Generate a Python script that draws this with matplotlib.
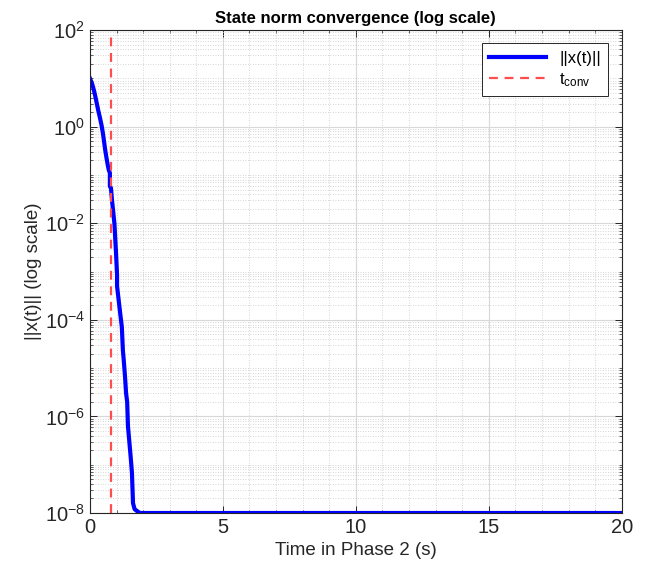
import numpy as np
import matplotlib
matplotlib.use("Agg")
import matplotlib.pyplot as plt
from matplotlib.ticker import MultipleLocator, FixedLocator, NullFormatter

plt.rcParams['font.family'] = ['Liberation Sans', 'DejaVu Sans']

# state norm samples (time in s, norm value)
t_vals = [0.00, 0.08, 0.16, 0.23, 0.31, 0.38, 0.44, 0.49, 0.53, 0.57,
          0.62, 0.67, 0.71, 0.75, 0.75, 0.79, 0.83, 0.92, 0.98, 1.02,
          1.02, 1.09, 1.15, 1.20, 1.24, 1.27, 1.32, 1.36, 1.40, 1.43,
          1.50, 1.53, 1.58, 1.62, 1.68, 1.77, 1.88, 20.0]
x_norm = [10.0, 7.8, 5.4, 3.6, 2.2, 1.5, 1.05, 0.72, 0.50, 0.34,
          0.23, 0.16, 0.126, 0.11, 0.058, 0.054, 0.030, 0.010, 2.5e-3, 8.5e-4,
          5.0e-4, 2.3e-4, 1.2e-4, 7.1e-5, 2.3e-5, 1.5e-5, 6.6e-6, 3.0e-6, 2.0e-6, 6.3e-7,
          2.3e-7, 1.5e-7, 6.8e-8, 1.6e-8, 1.2e-8, 1.1e-8, 1.0e-8, 1.0e-8]
t_conv = 0.79

fig = plt.figure(figsize=(6.47, 5.68), dpi=100)
ax = fig.add_axes([0.139, 0.0968, 0.822, 0.8502])

ax.semilogy(t_vals, x_norm, color=(0, 0, 1), lw=3.0, label='||x(t)||')
ax.axvline(t_conv, color=(1, 0.3, 0.3), lw=1.6, ls=(0, (4, 3)), label=r'$\mathregular{t_{conv}}$')

ax.set_xlim(0, 20)
ax.set_ylim(1e-8, 1e2)
ax.xaxis.set_major_locator(MultipleLocator(5))
ax.xaxis.set_minor_locator(MultipleLocator(1))
ax.yaxis.set_major_locator(FixedLocator([1e-8, 1e-6, 1e-4, 1e-2, 1e0, 1e2]))
minor = []
for k in range(-8, 2):
    for m in range(1, 10):
        if m == 1 and k % 2 == 0:
            continue
        minor.append(m * 10.0 ** k)
ax.yaxis.set_minor_locator(FixedLocator(minor))
ax.yaxis.set_minor_formatter(NullFormatter())

ax.grid(True, which='major', color='#d8d8d8', lw=0.8, ls='-')
ax.grid(True, which='minor', color='#c8c8c8', lw=0.6, ls=(0, (1, 2)))
ax.set_axisbelow(True)

ax.tick_params(which='both', direction='in', top=True, right=True, labelsize=14.5, colors='#262626')
ax.tick_params(which='major', length=5, width=0.7)
ax.tick_params(which='minor', length=2.5, width=0.5)
for s in ax.spines.values():
    s.set_color('#262626')
    s.set_linewidth(0.8)

ax.set_title('State norm convergence (log scale)', fontsize=12, fontweight='bold', pad=5)
ax.set_xlabel('Time in Phase 2 (s)', fontsize=13.5, color='#262626')
ax.set_ylabel('||x(t)|| (log scale)', fontsize=13.5, color='#262626', labelpad=2)

leg = ax.legend(loc='upper right', fontsize=12, frameon=True, fancybox=False,
                edgecolor='#262626', framealpha=1, handlelength=3.4,
                borderaxespad=0.8, borderpad=0.45, labelspacing=0.3)
leg.get_frame().set_linewidth(0.7)

fig.savefig('out.png', dpi=100)
